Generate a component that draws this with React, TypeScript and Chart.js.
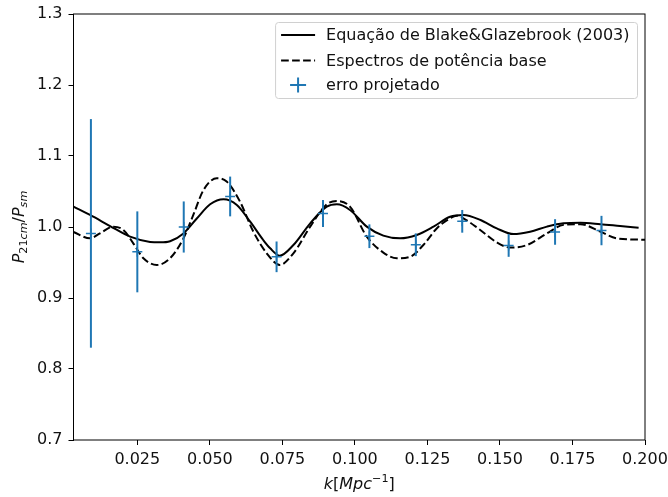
import React, { useEffect, useRef } from "react";
import { Chart, registerables } from "chart.js";

Chart.register(...registerables);

// Blake & Glazebrook (2003) fitting formula
const kBlake = [0.003, 0.0087, 0.0156, 0.0225, 0.0294, 0.0328, 0.0363, 0.0409, 0.0455, 0.0501, 0.0547, 0.0593, 0.0639, 0.0684, 0.0708, 0.0741, 0.0788, 0.0846, 0.0903, 0.0938, 0.0983, 0.1041, 0.1098, 0.1156, 0.1213, 0.1271, 0.1328, 0.1374, 0.1433, 0.1489, 0.1547, 0.1604, 0.1662, 0.1719, 0.1777, 0.1846, 0.1914, 0.1978];
const pBlake = [1.0286, 1.017, 1.0014, 0.9864, 0.979, 0.9784, 0.98, 0.991, 1.012, 1.032, 1.039, 1.031, 1.0075, 0.9817, 0.97, 0.9596, 0.9746, 1.0052, 1.0286, 1.032, 1.024, 1.0005, 0.9878, 0.984, 0.9887, 1.0005, 1.0145, 1.017, 1.0099, 0.998, 0.99, 0.9934, 1.0005, 1.0052, 1.006, 1.004, 1.0014, 0.999];

// base power spectra ratio
const kBase = [0.003, 0.0087, 0.0121, 0.0167, 0.0202, 0.0236, 0.0271, 0.0317, 0.0363, 0.0409, 0.0443, 0.0478, 0.0524, 0.0558, 0.0604, 0.065, 0.0696, 0.0741, 0.0788, 0.0846, 0.0903, 0.0938, 0.0983, 0.1041, 0.1098, 0.1145, 0.119, 0.1236, 0.1282, 0.1328, 0.1351, 0.1374, 0.1432, 0.1489, 0.1535, 0.1593, 0.1662, 0.1719, 0.1777, 0.1846, 0.1903, 0.2];
const pBase = [0.993, 0.984, 0.991, 1.0005, 0.9958, 0.977, 0.956, 0.9465, 0.956, 0.984, 1.017, 1.052, 1.0686, 1.064, 1.0357, 0.9934, 0.963, 0.9465, 0.963, 1.0005, 1.032, 1.0366, 1.0286, 0.9864, 0.964, 0.956, 0.958, 0.9746, 0.998, 1.0123, 1.016, 1.0123, 0.9958, 0.9784, 0.971, 0.9746, 0.991, 1.003, 1.004, 0.9934, 0.984, 0.982];

// projected measurement error
const kErr = [0.009, 0.025, 0.041, 0.057, 0.073, 0.089, 0.105, 0.121, 0.137, 0.153, 0.169, 0.185];
const pErr = [0.991, 0.965, 1.0, 1.043, 0.958, 1.019, 0.987, 0.975, 1.008, 0.974, 0.993, 0.995];
const sigma = [0.161, 0.057, 0.036, 0.028, 0.0216, 0.019, 0.0167, 0.016, 0.016, 0.016, 0.018, 0.0207];

const xTicks = [0.025, 0.05, 0.075, 0.1, 0.125, 0.15, 0.175, 0.2];
const yTicks = [0.7, 0.8, 0.9, 1.0, 1.1, 1.2, 1.3];

const labelBlake = "Equação de Blake&Glazebrook (2003)";
const labelBase = "Espectros de potência base";
const labelErr = "erro projetado";

const BLUE = "#1f77b4";
const FAMILY = '"DejaVu Sans"';
const TEXT = "#111";
const FS = 16;
const SUB = 11.2;

type Seg = { t: string; italic?: boolean; size: number; dy: number };

function drawSegments(ctx: CanvasRenderingContext2D, segs: Seg[]) {
  let total = 0;
  const widths: number[] = [];
  for (const s of segs) {
    ctx.font = `${s.italic ? "italic " : ""}${s.size}px ${FAMILY}`;
    const w = ctx.measureText(s.t).width;
    widths.push(w);
    total += w;
  }
  let x = -total / 2;
  segs.forEach((s, i) => {
    ctx.font = `${s.italic ? "italic " : ""}${s.size}px ${FAMILY}`;
    ctx.fillText(s.t, x, s.dy);
    x += widths[i];
  });
}

const extras = {
  id: "extras",
  afterDatasetsDraw(chart: any) {
    const { ctx, scales } = chart;
    const xs = scales.x;
    const ys = scales.y;
    // vertical error bars
    ctx.save();
    ctx.strokeStyle = BLUE;
    ctx.lineWidth = 2;
    kErr.forEach((k, i) => {
      const px = xs.getPixelForValue(k);
      ctx.beginPath();
      ctx.moveTo(px, ys.getPixelForValue(pErr[i] + sigma[i]));
      ctx.lineTo(px, ys.getPixelForValue(pErr[i] - sigma[i]));
      ctx.stroke();
    });
    ctx.restore();
  },
  afterDraw(chart: any) {
    const { ctx, chartArea } = chart;
    const { left, right, top, bottom } = chartArea;
    ctx.save();
    // axes frame
    ctx.strokeStyle = "#000";
    ctx.lineWidth = 1;
    ctx.strokeRect(left, top, right - left, bottom - top);

    // legend
    ctx.font = `${FS}px ${FAMILY}`;
    const labels = [labelBlake, labelBase, labelErr];
    const textW = Math.max(...labels.map((l) => ctx.measureText(l).width));
    const boxRight = right - 7.5;
    const boxTop = top + 8.5;
    const handleL = 5.5;
    const handleLen = 34;
    const textGap = 11;
    const boxW = handleL + handleLen + textGap + textW + 8;
    const boxLeft = boxRight - boxW;
    const boxH = 76;
    ctx.fillStyle = "rgba(255,255,255,0.8)";
    ctx.strokeStyle = "#d0d0d0";
    ctx.lineWidth = 1;
    ctx.beginPath();
    ctx.roundRect(boxLeft, boxTop, boxW, boxH, 3);
    ctx.fill();
    ctx.stroke();

    const hx0 = boxLeft + handleL;
    const hx1 = hx0 + handleLen;
    const rows = [boxTop + 12.5, boxTop + 38, boxTop + 62.5];
    ctx.strokeStyle = "#000";
    ctx.lineWidth = 2;
    ctx.beginPath();
    ctx.moveTo(hx0, rows[0]);
    ctx.lineTo(hx1, rows[0]);
    ctx.stroke();
    ctx.setLineDash([7.7, 3.3]);
    ctx.beginPath();
    ctx.moveTo(hx0, rows[1]);
    ctx.lineTo(hx1, rows[1]);
    ctx.stroke();
    ctx.setLineDash([]);
    const cx = (hx0 + hx1) / 2;
    ctx.strokeStyle = BLUE;
    ctx.beginPath();
    ctx.moveTo(cx - 8, rows[2]);
    ctx.lineTo(cx + 8, rows[2]);
    ctx.moveTo(cx, rows[2] - 7.5);
    ctx.lineTo(cx, rows[2] + 7.5);
    ctx.stroke();

    ctx.fillStyle = TEXT;
    ctx.textBaseline = "middle";
    ctx.textAlign = "left";
    labels.forEach((l, i) => ctx.fillText(l, hx1 + textGap, rows[i] + 1));

    // axis titles
    ctx.textBaseline = "alphabetic";
    ctx.save();
    ctx.translate((left + right) / 2, 489);
    drawSegments(ctx, [
      { t: "k", italic: true, size: FS, dy: 0 },
      { t: "[", size: FS, dy: 0 },
      { t: "Mpc", italic: true, size: FS, dy: 0 },
      { t: "\u22121", size: SUB, dy: -7 },
      { t: "]", size: FS, dy: 0 },
    ]);
    ctx.restore();

    ctx.save();
    ctx.translate(24, (top + bottom) / 2);
    ctx.rotate(-Math.PI / 2);
    drawSegments(ctx, [
      { t: "P", italic: true, size: FS, dy: 0 },
      { t: "21", size: SUB, dy: 3 },
      { t: "cm", italic: true, size: SUB, dy: 3 },
      { t: "/", size: FS, dy: 0 },
      { t: "P", italic: true, size: FS, dy: 0 },
      { t: "sm", italic: true, size: SUB, dy: 3 },
    ]);
    ctx.restore();
    ctx.restore();
  },
};

export default function App() {
  const ref = useRef<HTMLCanvasElement>(null);

  useEffect(() => {
    const canvas = ref.current;
    if (!canvas) return;
    const tickFont = { family: FAMILY, size: FS };
    const chart = new Chart(canvas, {
      type: "line",
      data: {
        datasets: [
          {
            label: labelErr,
            type: "scatter",
            data: kErr.map((k, i) => ({ x: k, y: pErr[i] })),
            pointStyle: "cross",
            pointRadius: 5,
            pointBorderWidth: 1.5,
            borderColor: BLUE,
            backgroundColor: BLUE,
            showLine: false,
            order: 0,
          } as any,
          {
            label: labelBase,
            data: kBase.map((k, i) => ({ x: k, y: pBase[i] })),
            borderColor: "#000",
            borderWidth: 2,
            borderDash: [7.7, 3.3],
            pointRadius: 0,
            cubicInterpolationMode: "monotone",
            fill: false,
            order: 1,
          },
          {
            label: labelBlake,
            data: kBlake.map((k, i) => ({ x: k, y: pBlake[i] })),
            borderColor: "#000",
            borderWidth: 2,
            pointRadius: 0,
            cubicInterpolationMode: "monotone",
            fill: false,
            order: 2,
          },
        ],
      },
      options: {
        responsive: false,
        animation: false,
        events: [],
        layout: { padding: { left: 0, top: 14, right: 23, bottom: 0 } },
        scales: {
          x: {
            type: "linear",
            min: 0.003,
            max: 0.2,
            afterBuildTicks: (s: any) => {
              s.ticks = xTicks.map((v) => ({ value: v }));
            },
            afterFit: (s: any) => {
              s.height = 57;
              s.paddingRight = 0;
              s.paddingLeft = 0;
            },
            ticks: {
              font: tickFont,
              color: TEXT,
              padding: 5,
              maxRotation: 0,
              autoSkip: false,
              callback: (v: any) => Number(v).toFixed(3),
            },
            grid: { drawOnChartArea: false, drawTicks: true, tickLength: 5, color: "#000" },
            border: { display: false },
          },
          y: {
            type: "linear",
            min: 0.7,
            max: 1.3,
            afterBuildTicks: (s: any) => {
              s.ticks = yTicks.map((v) => ({ value: v }));
            },
            afterFit: (s: any) => {
              s.width = 73.5;
              s.paddingTop = 0;
              s.paddingBottom = 0;
            },
            ticks: {
              font: tickFont,
              color: TEXT,
              padding: 6,
              autoSkip: false,
              callback: (v: any) => Number(v).toFixed(1),
            },
            grid: { drawOnChartArea: false, drawTicks: true, tickLength: 5, color: "#000" },
            border: { display: false },
          },
        },
        plugins: {
          legend: { display: false },
          tooltip: { enabled: false },
        },
      },
      plugins: [extras],
    });
    return () => chart.destroy();
  }, []);

  return (
    <div style={{ position: "fixed", left: 0, top: 0, width: 668, height: 497, background: "#fff" }}>
      <canvas ref={ref} width={668} height={497} style={{ display: "block" }} />
    </div>
  );
}
